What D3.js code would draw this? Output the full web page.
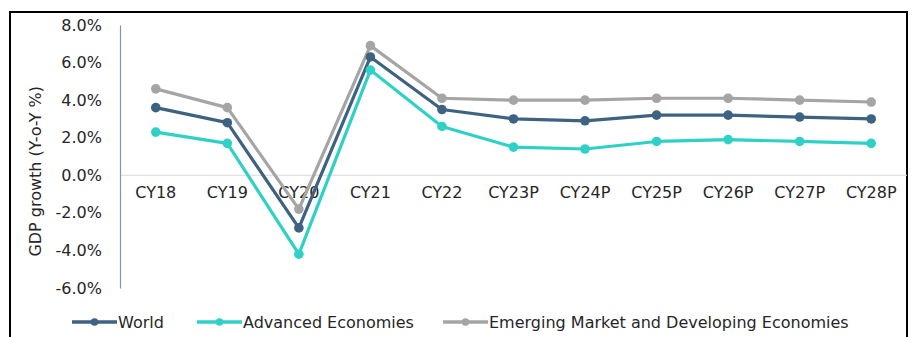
<!DOCTYPE html>
<html>
<head>
<meta charset="utf-8">
<script src="https://cdn.jsdelivr.net/npm/d3@7.9.0/dist/d3.min.js"></script>
<style>
  body { margin: 0; background: #fff; }
  svg { display: block; font-family: "DejaVu Sans", Verdana, sans-serif; }
</style>
</head>
<body>
<script>
// Chart data
const years = ["CY18", "CY19", "CY20", "CY21", "CY22", "CY23P", "CY24P", "CY25P", "CY26P", "CY27P", "CY28P"];
const world = [3.6, 2.8, -2.8, 6.3, 3.5, 3.0, 2.9, 3.2, 3.2, 3.1, 3.0];
const advanced = [2.3, 1.7, -4.2, 5.6, 2.6, 1.5, 1.4, 1.8, 1.9, 1.8, 1.7];
const emerging = [4.6, 3.6, -1.8, 6.9, 4.1, 4.0, 4.0, 4.1, 4.1, 4.0, 3.9];
const yTicks = [8, 6, 4, 2, 0, -2, -4, -6];
const seriesNames = ["World", "Advanced Economies", "Emerging Market and Developing Economies"];

const width = 913, height = 337;
const margin = { top: 25, right: 6, bottom: 49, left: 120 };
const fontSize = "16px";

const svg = d3.select("body").append("svg")
    .attr("width", width)
    .attr("height", height);

// outer frame (bottom edge is cut off)
svg.append("rect")
    .attr("x", 10).attr("y", 12)
    .attr("width", 897).attr("height", 340)
    .attr("fill", "none")
    .attr("stroke", "#000")
    .attr("stroke-width", 2);

const x = d3.scaleBand()
    .domain(years)
    .range([margin.left, width - margin.right]);

const y = d3.scaleLinear()
    .domain([-6, 8])
    .range([height - margin.bottom, margin.top]);

// zero line
svg.append("line")
    .attr("x1", margin.left).attr("x2", width - margin.right)
    .attr("y1", y(0)).attr("y2", y(0))
    .attr("stroke", "#d9d9d9")
    .attr("stroke-width", 1);

// y axis
const yAxis = svg.append("g")
    .attr("transform", `translate(${margin.left},0)`)
    .call(d3.axisLeft(y).tickValues(yTicks).tickSize(0).tickPadding(18)
        .tickFormat(d => d.toFixed(1) + "%"));
yAxis.select(".domain").attr("stroke", "#8496a6").attr("stroke-width", 1.2);
yAxis.selectAll("text")
    .attr("fill", "#262626")
    .style("font-size", fontSize)
    .style("font-family", "DejaVu Sans, Verdana, sans-serif");

// category labels sit just below the zero line
svg.append("g")
    .attr("transform", `translate(0,${y(0)})`)
    .call(d3.axisBottom(x).tickSize(0).tickPadding(11))
    .call(g => g.select(".domain").remove())
    .selectAll("text")
    .attr("fill", "#262626")
    .style("font-size", fontSize)
    .style("font-family", "DejaVu Sans, Verdana, sans-serif");

// y axis title
svg.append("text")
    .attr("transform", `translate(41,${y(0) - 4}) rotate(-90)`)
    .attr("text-anchor", "middle")
    .attr("fill", "#262626")
    .style("font-size", fontSize)
    .text("GDP growth (Y-o-Y %)");

const colors = ["#3e6282", "#2fd1c6", "#a5a5a5"];
const seriesData = [emerging, world, advanced];
const seriesColors = [colors[2], colors[0], colors[1]];

const line = d3.line()
    .x((d, i) => x(years[i]) + x.bandwidth() / 2)
    .y(d => y(d));

seriesData.forEach((vals, k) => {
    svg.append("path")
        .datum(vals)
        .attr("d", line)
        .attr("fill", "none")
        .attr("stroke", seriesColors[k])
        .attr("stroke-width", 3.2)
        .attr("stroke-linejoin", "round");

    svg.append("g").selectAll("circle")
        .data(vals)
        .enter().append("circle")
        .attr("cx", (d, i) => x(years[i]) + x.bandwidth() / 2)
        .attr("cy", d => y(d))
        .attr("r", 4.8)
        .attr("fill", seriesColors[k]);
});

// legend
const legendX = [72, 197, 443];
const legendY = 322;
const legend = svg.append("g");
seriesNames.forEach((name, k) => {
    const g = legend.append("g").attr("transform", `translate(${legendX[k]},${legendY})`);
    g.append("line")
        .attr("x1", 0).attr("x2", 45)
        .attr("stroke", colors[k])
        .attr("stroke-width", 3.5);
    g.append("circle")
        .attr("cx", 22.5).attr("r", 3.8)
        .attr("fill", colors[k]);
    g.append("text")
        .attr("x", 46)
        .attr("dy", "0.35em")
        .attr("fill", "#262626")
        .style("font-size", fontSize)
        .text(name);
});
</script>
</body>
</html>
